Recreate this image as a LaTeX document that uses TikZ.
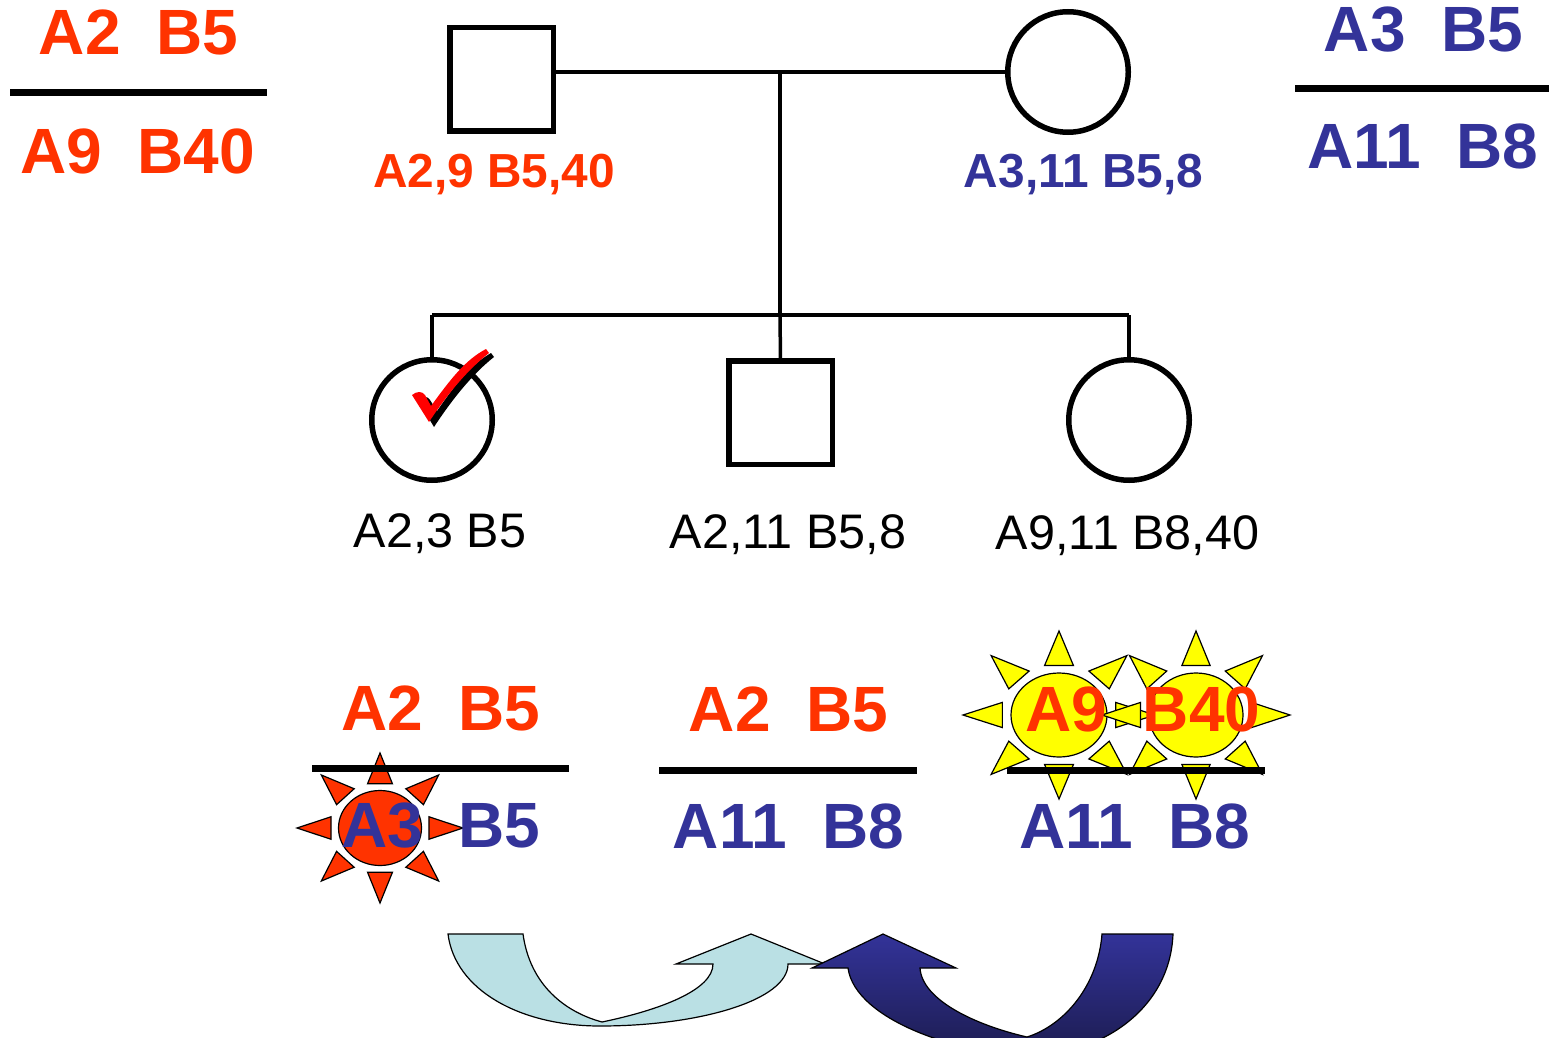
\documentclass[tikz,border=0pt]{standalone}
\usepackage{fontspec}
\setmainfont{Liberation Sans}
\definecolor{hred}{HTML}{FF3300}
\definecolor{hblue}{HTML}{333399}
\definecolor{hdark}{HTML}{1C1C50}
\definecolor{hlight}{RGB}{186,224,228}
\definecolor{sunred}{HTML}{FF3300}
\definecolor{sunyel}{HTML}{FFFF00}
\newcommand\drawsun[5]{%
  \begin{scope}[shift={(#1,#2)},xscale=#3,yscale=#4]
    \foreach \a in {0,45,...,315}
      \filldraw[fill=#5,draw=black,line width=1.2pt,line join=miter,rotate=\a]
        (2.0,0) -- (1.18,0.3) -- (1.18,-0.3) -- cycle;
    \filldraw[fill=#5,draw=black,line width=1.2pt] (0,0) circle (1);
  \end{scope}}
\begin{document}
\begin{tikzpicture}[x=1pt,y=-1pt,
  hap/.style={inner sep=0pt,anchor=base,font=\fontsize{64}{70}\selectfont\bfseries},
  lab/.style={inner sep=0pt,anchor=base,font=\fontsize{47.8}{52}\selectfont\bfseries},
  kid/.style={inner sep=0pt,anchor=base,font=\fontsize{48.5}{52}\selectfont},
  hline/.style={line width=7pt},
  ped/.style={line width=3.5pt},
  malebox/.style={draw,line width=5.5pt,rectangle,minimum size=103.5pt,inner sep=0pt,outer sep=0pt},
  femcirc/.style={draw,line width=5.5pt,circle,minimum size=120.5pt,inner sep=0pt,outer sep=0pt}]
\useasboundingbox (0,0) rectangle (1549,1038);
\clip (0,0) rectangle (1549,1038);

% ---- pedigree ----
\node[malebox] (father) at (501.5,79.5) {};
\node[femcirc] (mother) at (1068,72) {};
\coordinate (mid) at (780,72);
\coordinate (sib) at (780,315);
\coordinate (sibL) at (432,315);
\coordinate (sibR) at (1129,315);
\node[femcirc] (c1) at (432,420) {};
\node[malebox] (c2) at (780.5,412.5) {};
\node[femcirc] (c3) at (1129,420) {};
\draw[ped] (mid -| father.east) -- (mother.west);
\draw[ped] (mid) -- (sib);
\draw[ped] (sibL) -- (sibR);
\draw[ped] (c1.north) -- (sibL);
\draw[ped] (c2.north) -- (sib);
\draw[ped] (c3.north) -- (sibR);

% check mark
\fill[black] (418,400) .. controls (423,396) and (428,396) .. (430,400) -- (437,411)
  .. controls (455,385) and (470,365) .. (491,353) -- (494,357)
  .. controls (475,372) and (455,395) .. (434,427) -- cycle;
\fill[red] (412,395) .. controls (417,391) and (422,391) .. (425,395) -- (431,406)
  .. controls (450,380) and (465,360) .. (486,349) -- (489,353)
  .. controls (470,368) and (450,390) .. (429,422) -- cycle;

% ---- top haplotypes ----
\node[hap,text=hred] (tl1) at (138.5,55) {A2~~B5};
\node[hap,text=hred] (tl2) at (137.5,173) {A9~~B40};
\coordinate (tlL) at (10,93); \coordinate (tlR) at (267,93);
\draw[hline] (tlL) -- (tlR);
\node[hap,text=hblue] (tr1) at (1423.5,52) {A3~~B5};
\node[hap,text=hblue] (tr2) at (1423,168) {A11~~B8};
\coordinate (trL) at (1295,89); \coordinate (trR) at (1549,89);
\draw[hline] (trL) -- (trR);

\node[lab,text=hred] (flab) at (494,187) {A2,9 B5,40};
\node[lab,text=hblue] (mlab) at (1083.5,187) {A3,11 B5,8};
\node[kid] (k1) at (440,547) {A2,3 B5};
\node[kid] (k2) at (788,548) {A2,11 B5,8};
\node[kid] (k3) at (1127.5,549) {A9,11 B8,40};

% ---- suns ----
\drawsun{380}{828}{41.5}{37.5}{sunred}
\drawsun{1059}{715}{48}{42}{sunyel}
\drawsun{1196}{715}{47}{42}{sunyel}

% ---- bottom haplotypes ----
\coordinate (b1L) at (312,768); \coordinate (b1R) at (569,768);
\coordinate (b2L) at (659,770); \coordinate (b2R) at (917,770);
\coordinate (b3L) at (1007,770); \coordinate (b3R) at (1265,770);
\draw[hline] (b1L) -- (b1R);
\draw[hline] (b2L) -- (b2R);
\draw[hline] (b3L) -- (b3R);
\node[hap,text=hred] (h1a) at (441,730) {A2~~B5};
\node[hap,text=hblue] (h1b) at (441,847) {A3~~B5};
\node[hap,text=hred] (h2a) at (788.5,731) {A2~~B5};
\node[hap,text=hblue] (h2b) at (788.5,848) {A11~~B8};
\node[hap,text=hred] (h3a) at (1143,731) {A9~~B40};
\node[hap,text=hblue] (h3b) at (1135,848) {A11~~B8};

% ---- arrows ----
\filldraw[fill=hlight,draw=black,line width=1.2pt]
  (448,934) -- (523,934)
  .. controls (530,985) and (565,1012) .. (602,1022)
  .. controls (660,1010) and (713,990) .. (713,964)
  -- (676,964) -- (751,934) -- (825,964) -- (788,964)
  .. controls (788,1000) and (700,1026) .. (600,1026)
  .. controls (520,1026) and (455,990) .. (448,934) -- cycle;
\draw[draw=black,line width=1.2pt,top color=hblue,bottom color=hdark]
  (1102,934) -- (1173,934)
  .. controls (1170,1010) and (1100,1055) .. (1030,1055)
  .. controls (960,1055) and (855,1020) .. (848,968)
  -- (812,968) -- (883,934) -- (956,968) -- (920,968)
  .. controls (922,1000) and (975,1025) .. (1027,1037)
  .. controls (1065,1025) and (1098,985) .. (1102,934) -- cycle;
\end{tikzpicture}
\end{document}
